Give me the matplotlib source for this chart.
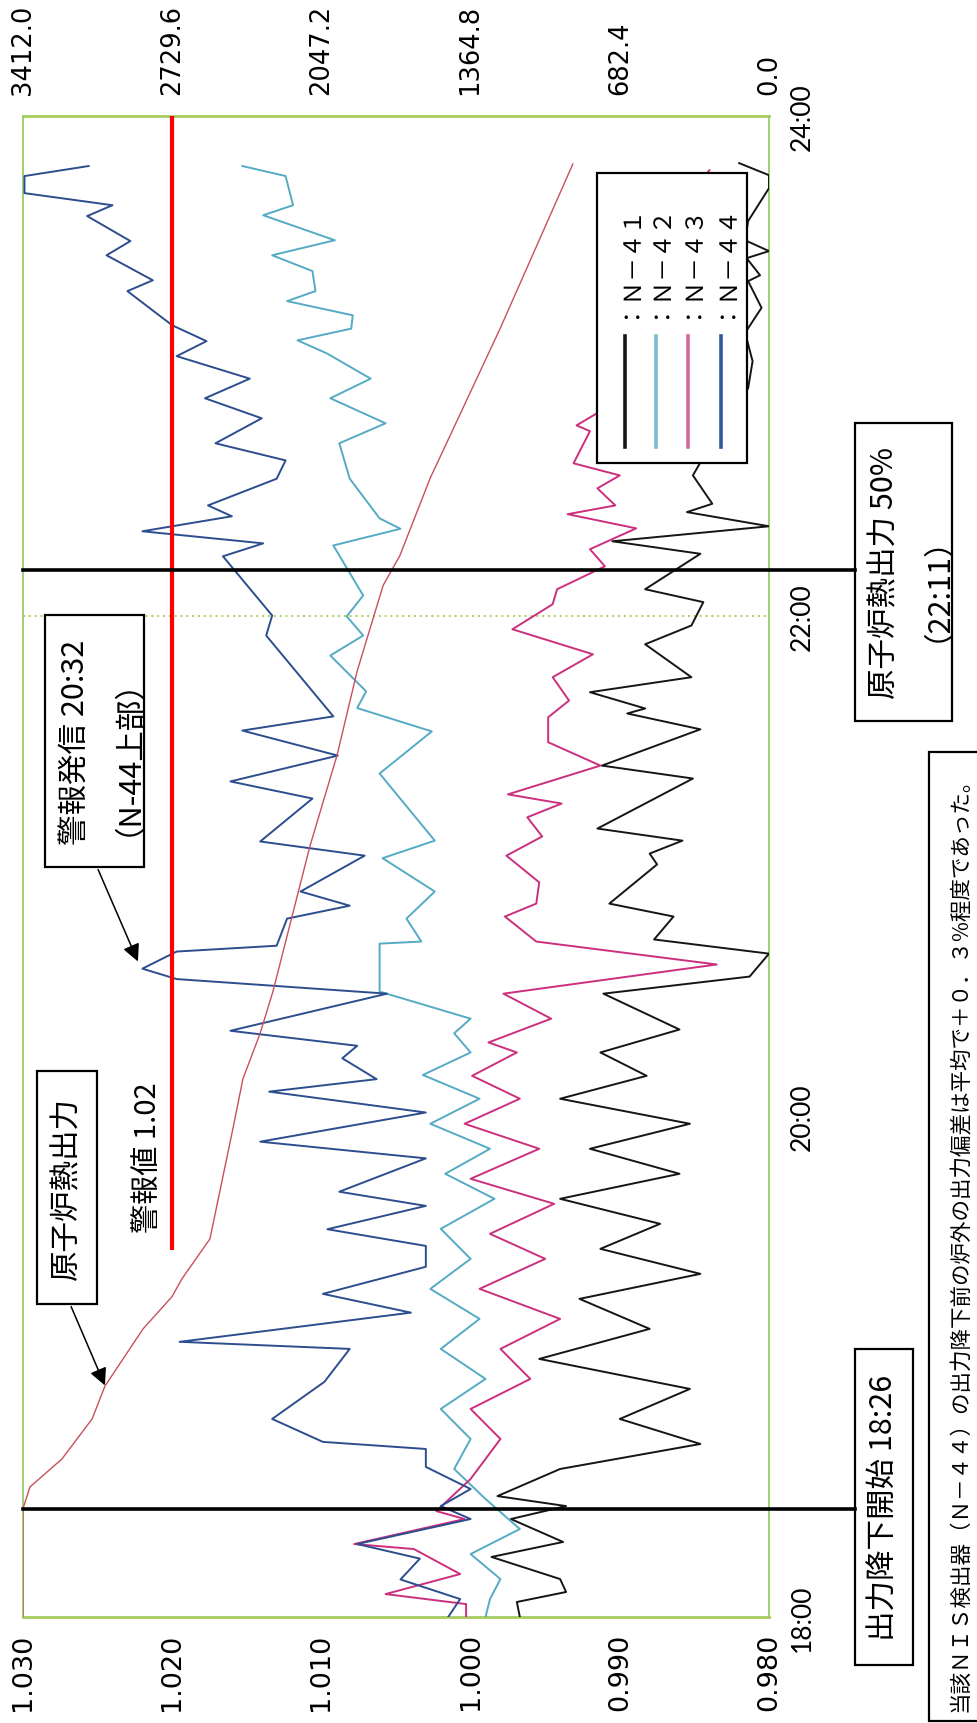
import matplotlib
matplotlib.use("Agg")
import numpy as np
import matplotlib.pyplot as plt
from matplotlib import transforms
from matplotlib.lines import Line2D
from matplotlib.patches import Rectangle, FancyArrowPatch

# --- data: minutes after 18:00 and output ratio of each NIS channel ---
n41_min = [0, 3.6, 6, 9.1, 14.4, 18, 23.5, 26.6, 29, 35.5, 41.5, 47.5, 54.7, 61.9,
           69.1, 76.3, 82.3, 88.3, 94.3, 100.3, 106.3, 112.3, 118.3, 124.3, 129.8,
           135.4, 140.9, 149.5, 153.6, 159.1, 162.5, 168, 171.1, 180.5, 183.1, 186.2,
           189.1, 201.1, 204.2, 212.9, 216.7, 217.9, 221.8, 225.4, 233.3, 237.8,
           243.4, 246.5, 255, 258, 261.6, 265, 267, 273.8, 285, 294.7, 301.2, 308,
           314, 320.4, 321.8, 325.9, 327.6, 330.2, 334.8, 342.7, 345.8, 348.7]
n41_val = [0.9967, 0.9969, 0.9936, 0.9940, 0.9986, 0.9938, 0.9973, 0.9936, 0.9982,
           0.9940, 0.9846, 0.9900, 0.9853, 0.9954, 0.9880, 0.9927, 0.9846, 0.9913,
           0.9873, 0.9940, 0.9860, 0.9920, 0.9853, 0.9940, 0.9882, 0.9913, 0.9860,
           0.9911, 0.9813, 0.9800, 0.9877, 0.9864, 0.9907, 0.9875, 0.9880, 0.9858,
           0.9915, 0.9851, 0.9912, 0.9846, 0.9895, 0.9883, 0.9920, 0.9852, 0.9883,
           0.9852, 0.9844, 0.9883, 0.9846, 0.9905, 0.9800, 0.9855, 0.9838, 0.9851,
           0.9833, 0.9814, 0.9811, 0.9816, 0.9805, 0.9814, 0.9806, 0.9815, 0.9800,
           0.9816, 0.9814, 0.9800, 0.9800, 0.9820]

n42_min = [0, 4.3, 9.1, 15.1, 21.1, 28.3, 35.5, 42.7, 49.9, 57.1, 64.3, 71.5, 78.7,
           85.9, 93.1, 100.3, 106.3, 112.3, 118.3, 124.3, 130, 135.4, 140, 143.5,
           150, 161.5, 162, 167.5, 174, 182, 186.2, 202.3, 212.4, 218, 222, 230.6,
           235.4, 240, 245, 257, 261, 263.5, 273, 281.5, 286.3, 292.3, 297, 303,
           306.2, 309, 312.2, 315.6, 318, 322.8, 326.6, 330.2, 336.2, 338.6, 345.6, 348]
n42_val = [0.9990, 0.9987, 0.9980, 1.0000, 0.9967, 0.9990, 1.0011, 1.0000, 1.0020,
           0.9990, 1.0020, 0.9994, 1.0027, 1.0000, 1.0020, 0.9984, 1.0017, 0.9987,
           1.0027, 0.9994, 1.0032, 1.0000, 1.0011, 1.0000, 1.0061, 1.0061, 1.0033,
           1.0043, 1.0024, 1.0059, 1.0024, 1.0061, 1.0026, 1.0076, 1.0070, 1.0094,
           1.0072, 1.0083, 1.0072, 1.0092, 1.0047, 1.0061, 1.0081, 1.0088, 1.0057,
           1.0094, 1.0067, 1.0096, 1.0116, 1.0080, 1.0079, 1.0123, 1.0104, 1.0106,
           1.0133, 1.0091, 1.0139, 1.0119, 1.0124, 1.0153]

n43_min = [0, 3.1, 5.5, 10.3, 16.3, 17.5, 23.5, 25.4, 33.1, 42.7, 49.9, 57.1, 64.3,
           71.5, 78.7, 85.9, 91.9, 99.1, 105.1, 112.3, 118.3, 124.3, 129.8, 135.4,
           137.8, 143.5, 149.5, 156.5, 162, 168, 171.1, 176.2, 182.6, 187.2, 191.8,
           195.1, 197.3, 204.2, 209.8, 215.8, 219.8, 225.4, 230.9, 236.9, 242.9,
           246.5, 252, 256.1, 261.1, 264.5, 266.6, 270.7, 273.8, 276.7, 284.4,
           285.8, 294.7, 309, 328.3, 347]
n43_val = [1.0003, 1.0003, 1.0057, 1.0007, 1.0038, 1.0078, 1.0004, 1.0023, 1.0000,
           0.9980, 1.0000, 0.9960, 0.9980, 0.9940, 0.9994, 0.9950, 0.9987, 0.9944,
           1.0000, 0.9954, 1.0004, 0.9967, 0.9999, 0.9969, 0.9988, 0.9946, 0.9978,
           0.9835, 0.9956, 0.9977, 0.9956, 0.9954, 0.9976, 0.9952, 0.9962, 0.9939,
           0.9975, 0.9913, 0.9948, 0.9948, 0.9934, 0.9945, 0.9918, 0.9972, 0.9945,
           0.9942, 0.9910, 0.9920, 0.9889, 0.9935, 0.9903, 0.9915, 0.9900, 0.9931,
           0.9920, 0.9929, 0.9887, 0.9900, 0.9880, 0.9840]

n44_min = [0, 4.3, 9, 14, 17.5, 23.5, 26.6, 30.7, 36, 40.3, 42, 47.5, 56.4, 64.3, 66,
           73, 77.5, 84, 89, 93, 98.6, 102, 110, 114, 121, 126, 129, 134, 137, 140.6,
           149.5, 153, 155.5, 159.6, 161, 167.5, 170.6, 174, 182.6, 186, 196.3, 200.4,
           206.6, 212.6, 216, 235.4, 240.2, 254.4, 257.5, 260.4, 264, 266.6, 273,
           277.4, 281.5, 287.5, 292.3, 297, 302.4, 306, 309.8, 318, 320.6, 326.6,
           330, 336, 338.6, 341.5, 345.6, 348]
n44_val = [1.0015, 1.0007, 1.0047, 1.0034, 1.0076, 1.0000, 1.0020, 1.0000, 1.0030,
           1.0030, 1.0099, 1.0133, 1.0098, 1.0081, 1.0195, 1.0040, 1.0099, 1.0030,
           1.0030, 1.0096, 1.0030, 1.0088, 1.0030, 1.0141, 1.0030, 1.0135, 1.0063,
           1.0086, 1.0076, 1.0161, 1.0056, 1.0197, 1.0220, 1.0197, 1.0130, 1.0123,
           1.0081, 1.0114, 1.0071, 1.0141, 1.0106, 1.0161, 1.0089, 1.0153, 1.0092,
           1.0137, 1.0133, 1.0166, 1.0139, 1.0220, 1.0160, 1.0176, 1.0130, 1.0124,
           1.0171, 1.0140, 1.0178, 1.0148, 1.0197, 1.0177, 1.0200, 1.0230, 1.0213,
           1.0244, 1.0228, 1.0257, 1.0240, 1.0299, 1.0299, 1.0256]

# reactor thermal output (MWt)
power_min = [0, 26, 31.2, 37.9, 47.5, 55.4, 69.1, 76.8, 81.1, 90.7, 117.1, 129.1,
             139.9, 150, 185, 206.6, 226.8, 247.4, 254.6, 273.1, 309, 348.5]
power_val = [3412, 3412, 3380, 3234, 3096, 3037, 2863, 2731, 2685, 2557, 2452, 2406,
             2328, 2269, 2099, 1976, 1884, 1765, 1688, 1550, 1230, 897]

ratio_ticks = [1.030, 1.020, 1.010, 1.000, 0.990, 0.980]
power_ticks = [3412.0, 2729.6, 2047.2, 1364.8, 682.4, 0.0]
hour_ticks = [18, 19, 20, 21, 22, 23, 24]
hour_labels = ['18:00', '', '20:00', '', '22:00', '', '24:00']

alarm_level = 1.02
alarm_from = 18 + 88 / 60
drop_start = 18 + 26 / 60
half_power = 22 + 11 / 60

W, H = 977, 1724
JP = ['Noto Sans CJK JP', 'DejaVu Sans']
GREEN = '#1faa4a'


def hours(mins):
    return 18 + np.asarray(mins) / 60.0


def fx(x):
    return x / W


def fy(y):
    return 1 - y / H


fig = plt.figure(figsize=(W / 100, H / 100), dpi=100, facecolor='white')
ax = fig.add_axes([fx(23), fy(1618), fx(769) - fx(23), (1618 - 117) / H])
ax.set_xlim(1.030, 0.980)
ax.set_ylim(18, 24)

series = [(n41_min, n41_val, '#151515'),
          (n42_min, n42_val, '#55abc4'),
          (n43_min, n43_val, '#cc2f7e'),
          (n44_min, n44_val, '#2c4d8e')]
for mins, vals, col in series:
    ax.plot(vals, hours(mins), color=col, lw=1.4, zorder=3)

ax.plot([alarm_level, alarm_level], [alarm_from, 24], color='#ff0000', lw=3.0,
        solid_capstyle='butt', zorder=6, clip_on=False)
ax.axhline(22, color='#a9cf58', ls=(0, (1, 2)), lw=1.4, zorder=1)

# ratio axis (bottom)
ax.set_xticks(ratio_ticks)
ax.set_xticklabels([f'{v:.3f}' for v in ratio_ticks], rotation=90, fontsize=19.5)
ax.tick_params(axis='x', which='major', length=0, pad=11)
ax.set_xticks(ratio_ticks[1:-1], minor=True)
ax.tick_params(axis='x', which='minor', direction='in', length=26, width=1.6,
               color=GREEN)

# time axis (right)
ax.yaxis.tick_right()
ax.set_yticks(hour_ticks)
ax.set_yticklabels(hour_labels, rotation=90, va='center', fontsize=19,
                   fontfamily='Lato')
ax.tick_params(axis='y', which='major', length=0, pad=15)
ax.set_yticks([19, 20, 21, 23], minor=True)
ax.tick_params(axis='y', which='minor', direction='in', length=11, width=1.6,
               color='#7cc04a')

for s in ax.spines.values():
    s.set_color('#8cc85a')
    s.set_linestyle((0, (1, 1)))
    s.set_linewidth(1.2)
for side in ('top', 'bottom'):
    ax.spines[side].set_linewidth(2.0)
    ax.spines[side].set_color('#a6cc5e')

# thermal output axis (top)
ax2 = ax.twiny()
ax2.set_xlim(3412, 0)
ax2.plot(power_val, hours(power_min), color='#c8505c', lw=1.0, zorder=4)
ax2.set_xticks(power_ticks)
ax2.set_xticklabels([f'{v:.1f}' for v in power_ticks], rotation=90, fontsize=18.5)
ax2.tick_params(axis='x', which='major', length=0, pad=16)
ax2.set_xticks(power_ticks[1:-1], minor=True)
ax2.tick_params(axis='x', which='minor', direction='in', length=27, width=1.6,
                color=GREEN)
for s in ax2.spines.values():
    s.set_visible(False)

# leader lines from the event times to their boxes
lead = transforms.blended_transform_factory(fig.transFigure, ax.transData)
for t in (drop_start, half_power):
    fig.add_artist(Line2D([fx(23), fx(855)], [t, t], transform=lead,
                          color='black', lw=2.6, zorder=5))


def box(x0, y0, x1, y1, z=4):
    fig.add_artist(Rectangle((fx(x0), fy(y1)), (x1 - x0) / W, (y1 - y0) / H,
                             transform=fig.transFigure, fc='white', ec='black',
                             lw=1.6, zorder=z))


def vtext(x, y, s, size=22, va='center', **kw):
    fig.text(fx(x), fy(y), s, rotation=90, ha='center', va=va, fontsize=size,
             family=JP, zorder=7, **kw)


box(855, 1350, 913, 1666)
vtext(884, 1508, '出力降下開始 18:26')

box(855, 424, 952, 722)
vtext(903, 573, '原子炉熱出力 50%\n（22:11）', multialignment='center')

box(45, 616, 144, 868)
vtext(94, 742, '警報発信 20:32\n（N-44上部）', multialignment='center')

box(37, 1072, 97, 1305)
vtext(67, 1188, '原子炉熱出力')

vtext(148, 1158, '警報値 1.02', size=21)

box(929, 753, 995, 1722)
vtext(961, 1712, '当該ＮＩＳ検出器（Ｎ－４４）の出力降下前の炉外の出力偏差は平均で＋０．３%程度であった。',
      size=15.5, va='bottom')

for (x0, y0), (x1, y1) in [((70, 1305), (106, 1389)), ((97, 868), (139, 965))]:
    fig.add_artist(FancyArrowPatch((fx(x0), fy(y0)), (fx(x1), fy(y1)),
                                   transform=fig.transFigure, arrowstyle='-|>',
                                   mutation_scale=26, lw=1.1, color='black',
                                   zorder=6))

# legend
box(597, 174, 747, 464, z=4)
legend_names = ['：Ｎ－４１', '：Ｎ－４２', '：Ｎ－４３', '：Ｎ－４４']
legend_cols = ['#151515', '#7dbbd0', '#cf6a9c', '#35589c']
for x, name, col in zip([625, 656, 688, 721], legend_names, legend_cols):
    fig.add_artist(Line2D([fx(x), fx(x)], [fy(337), fy(448)],
                          transform=fig.transFigure, color=col, lw=2.6, zorder=6))
    vtext(x, 318, name, size=17, va='bottom')

fig.savefig('out.png', dpi=100, facecolor='white')
